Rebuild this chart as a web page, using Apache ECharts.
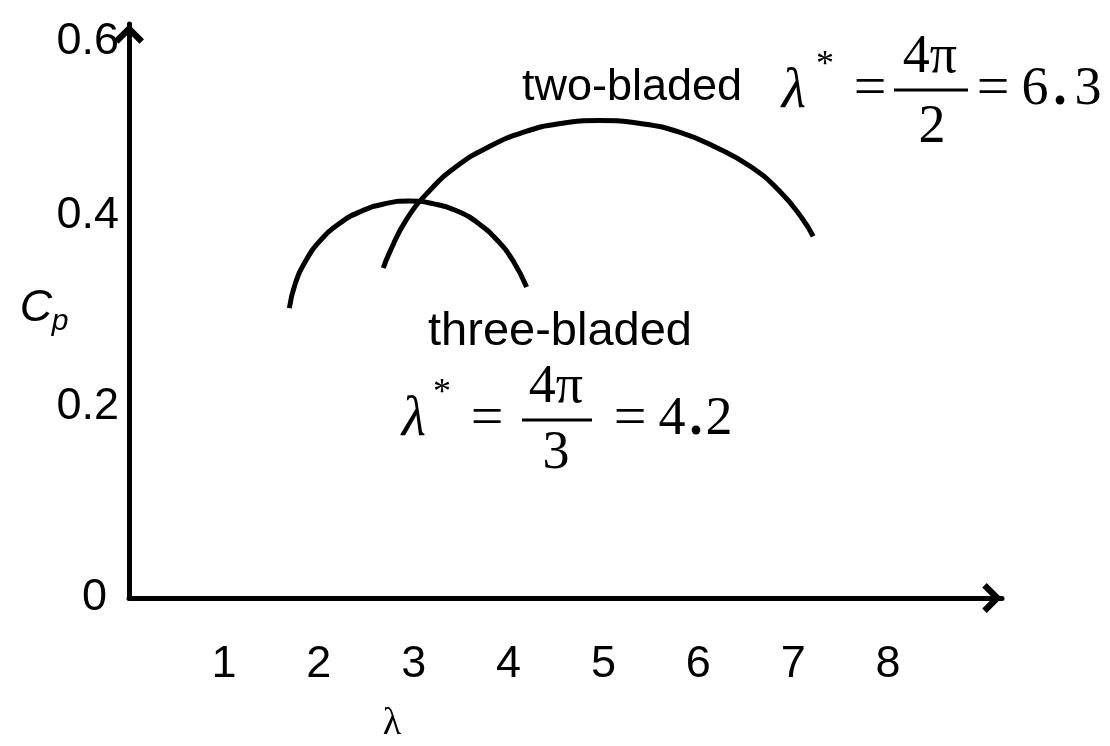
<!DOCTYPE html>
<html>
<head>
<meta charset="utf-8">
<style>
  html, body { margin: 0; padding: 0; background: #fff; }
  #chart { width: 1110px; height: 746px; }
</style>
<script src="https://cdn.jsdelivr.net/npm/echarts@6/dist/echarts.min.js"></script>
</head>
<body>
<div id="chart"></div>
<script>
// tip speed ratio (lambda) / power coefficient
var threeBladedX = [1.69, 1.75, 1.86, 2.01, 2.21, 2.44, 2.69, 2.95, 3.21, 3.47, 3.69, 3.89, 4.05, 4.19];
var threeBladedY = [0.303, 0.328, 0.352, 0.373, 0.391, 0.404, 0.412, 0.415, 0.412, 0.404, 0.391, 0.373, 0.352, 0.325];

var twoBladedX = [2.68, 2.75, 2.92, 3.16, 3.45, 3.78, 4.16, 4.55, 4.96, 5.39, 5.80, 6.19, 6.55, 6.86, 7.10, 7.21];
var twoBladedY = [0.345, 0.362, 0.395, 0.425, 0.451, 0.471, 0.487, 0.496, 0.499, 0.496, 0.487, 0.471, 0.451, 0.425, 0.396, 0.378];

var xTickLabels = ['1', '2', '3', '4', '5', '6', '7', '8'];
var yTickLabels = ['0', '0.2', '0.4', '0.6'];

function pairs(xs, ys) {
    return xs.map(function (x, i) { return [x, ys[i]]; });
}

var sans = 'Arial, "Liberation Sans", sans-serif';
var serif = '"Times New Roman", "Liberation Serif", serif';

// open chevron used as axis arrow head (points up in its own box)
var chevron = 'path://M10,0 L20,10 L17,13 L10,6 L3,13 L0,10 Z';

function txt(x, y, s, font, align) {
    return {
        type: 'text',
        style: {
            x: x, y: y, text: s, font: font,
            fill: '#000',
            textAlign: align || 'center',
            textVerticalAlign: 'middle'
        }
    };
}

function bar(x1, x2, y) {
    return {
        type: 'line',
        shape: { x1: x1, y1: y, x2: x2, y2: y },
        style: { stroke: '#000', lineWidth: 3 }
    };
}

var chart = echarts.init(document.getElementById('chart'));

var option = {
    animation: false,
    backgroundColor: '#fff',
    grid: {
        left: 129,
        right: 108,
        top: 24,
        bottom: 148
    },
    xAxis: {
        type: 'value',
        min: 0,
        max: 9.2,
        interval: 1,
        axisLine: {
            lineStyle: { color: '#000', width: 5 },
            symbol: ['none', chevron],
            symbolSize: [30, 20],
            symbolOffset: [0, -10]
        },
        axisTick: { show: false },
        splitLine: { show: false },
        axisLabel: {
            margin: 44,
            color: '#000',
            fontSize: 45,
            fontFamily: sans,
            showMaxLabel: false,
            formatter: function (v) {
                var s = String(v);
                return xTickLabels.indexOf(s) >= 0 ? s : '';
            }
        }
    },
    yAxis: {
        type: 'value',
        min: 0,
        max: 0.6,
        interval: 0.2,
        axisLine: {
            lineStyle: { color: '#000', width: 5 },
            symbol: ['none', chevron],
            symbolSize: [30, 20],
            symbolOffset: [0, -10]
        },
        axisTick: { show: false },
        splitLine: { show: false },
        axisLabel: {
            margin: 10,
            color: '#000',
            fontSize: 45,
            fontFamily: sans,
            formatter: function (v) {
                var s = String(Math.round(v * 10) / 10);
                if (yTickLabels.indexOf(s) < 0) return '';
                if (s === '0.6') return '{t|' + s + '}';
                if (s === '0') return '{z|' + s + '}';
                return s;
            },
            rich: {
                t: { fontSize: 45, fontFamily: sans, color: '#000', padding: [36, 0, 0, 0] },
                z: { fontSize: 45, fontFamily: sans, color: '#000', padding: [0, 12, 0, 0] }
            }
        }
    },
    series: [
        {
            name: 'three-bladed',
            type: 'line',
            smooth: true,
            symbol: 'none',
            lineStyle: { color: '#000', width: 5 },
            data: pairs(threeBladedX, threeBladedY)
        },
        {
            name: 'two-bladed',
            type: 'line',
            smooth: true,
            symbol: 'none',
            lineStyle: { color: '#000', width: 5 },
            data: pairs(twoBladedX, twoBladedY)
        }
    ],
    graphic: [
        // axis titles
        txt(36, 308, 'C', 'italic 45px ' + sans),
        txt(60, 322, 'p', 'italic 30px ' + sans),
        txt(392, 724, 'λ', '38px ' + serif),

        // two-bladed annotation
        txt(522, 88, 'two-bladed', '45px ' + sans, 'left'),
        txt(794, 92, 'λ', 'italic 56px ' + serif),
        txt(825, 66, '*', '36px ' + serif),
        txt(870, 90, '=', '58px ' + serif),
        txt(930, 58, '4π', '54px ' + serif),
        bar(894, 968, 90),
        txt(932, 128, '2', '54px ' + serif),
        txt(993, 90, '=', '58px ' + serif),
        txt(1035, 90, '6', '54px ' + serif),
        txt(1060, 90, '.', 'bold 54px ' + serif),
        txt(1088, 90, '3', '54px ' + serif),

        // three-bladed annotation
        txt(560, 332, 'three-bladed', '47px ' + sans),
        txt(414, 420, 'λ', 'italic 56px ' + serif),
        txt(442, 394, '*', '36px ' + serif),
        txt(487, 420, '=', '58px ' + serif),
        txt(556, 388, '4π', '54px ' + serif),
        bar(522, 592, 420),
        txt(556, 454, '3', '54px ' + serif),
        txt(630, 420, '=', '58px ' + serif),
        txt(672, 420, '4', '54px ' + serif),
        txt(696, 420, '.', 'bold 54px ' + serif),
        txt(719, 420, '2', '54px ' + serif)
    ]
};

chart.setOption(option);
</script>
</body>
</html>
